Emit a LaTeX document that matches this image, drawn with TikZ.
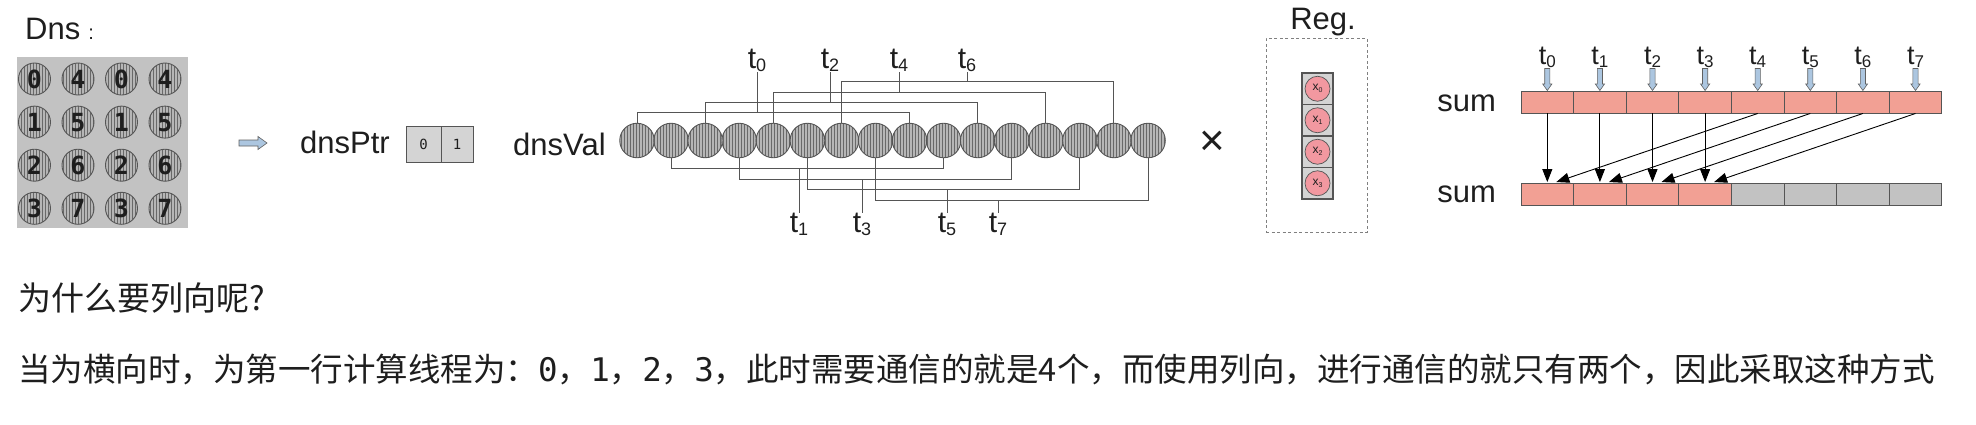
\documentclass[tikz,border=0pt]{standalone}
\usepackage{fontspec}
\setmainfont{Liberation Sans}
\newfontfamily\cjk{Noto Sans CJK SC}
\newfontfamily\monof{DejaVu Sans Mono}
\usetikzlibrary{patterns.meta,arrows.meta}
\definecolor{salmon}{RGB}{242,160,148}
\definecolor{cellgray}{RGB}{194,194,194}
\definecolor{ptrgray}{RGB}{212,212,212}
\definecolor{hbg}{RGB}{182,182,182}
\definecolor{hline}{RGB}{105,105,105}
\definecolor{regpink}{RGB}{242,152,160}
\definecolor{arrblue}{RGB}{172,198,224}
\definecolor{edgec}{RGB}{85,85,85}
\definecolor{txt}{RGB}{30,30,30}
\newcommand{\tsub}[2]{t\raisebox{-3pt}{\fontsize{#2}{#2}\selectfont #1}}
\newcommand{\xsub}[1]{x\raisebox{-2pt}{\fontsize{7}{7}\selectfont #1}}
\begin{document}
\begin{tikzpicture}[x=1pt,y=-1pt,
  big/.style={font=\fontsize{31}{36}\selectfont, inner sep=0pt, text=txt},
  tl/.style={font=\fontsize{30}{30}\selectfont, inner sep=0pt, text=txt},
  tls/.style={font=\fontsize{27}{27}\selectfont, inner sep=0pt, text=txt},
  hatch/.style={circle, inner sep=0pt, draw=edgec, line width=0.9pt,
    preaction={fill=hbg}, pattern={Lines[angle=90,distance=3pt,line width=0.8pt]}, pattern color=hline},
  br/.style={draw=edgec, line width=1pt},
  cellbox/.style={rectangle, draw=edgec, line width=0.9pt, minimum width=52.6pt, minimum height=22pt, inner sep=0pt},
  bluearrow/.style={draw=gray!75!black, fill=arrblue, line width=0.6pt, line join=miter},
  blk/.style={-{Triangle[length=13pt,width=10pt]}, line width=0.9pt, draw=black}
]
\useasboundingbox (0,0) rectangle (1976,424);

% ---------- Dns matrix ----------
\node[big, anchor=base west] (dns) at (25,39.3) {Dns\hspace{8pt}{\fontsize{20}{20}\selectfont :}};
\node[fill=cellgray, minimum width=171pt, minimum height=171pt, inner sep=0pt] (mat) at (102.5,142.5) {};
\foreach \r in {0,...,3} {
  \foreach \c in {0,...,3} {
    \pgfmathtruncatemacro\dg{\r+4*mod(\c,2)}
    \node[hatch, minimum size=32pt, font=\monof\bfseries\fontsize{25}{25}\selectfont, text=txt]
      (m\r\c) at ({34.5+43.5*\c},{79+43.1*\r}) {\dg};
  }
}

% ---------- arrow + dnsPtr ----------
\coordinate (arr) at (239,143);
\draw[bluearrow] (arr) ++(0,-3) -- ++(19,0) -- ++(0,-3.5) -- ++(9,6.5) -- ++(-9,6.5) -- ++(0,-3.5) -- ++(-19,0) -- cycle;
\node[big, anchor=base west] (ptrlab) at (300,153.3) {dnsPtr};
\node[rectangle, draw=edgec, fill=ptrgray, line width=0.9pt, minimum width=35pt, minimum height=36pt, inner sep=0pt,
  font=\monof\fontsize{14}{14}\selectfont, text=txt] (p0) at (423.5,144) {0};
\node[rectangle, draw=edgec, fill=ptrgray, line width=0.9pt, minimum width=32pt, minimum height=36pt, inner sep=0pt,
  font=\monof\fontsize{14}{14}\selectfont, text=txt] (p1) at (457,144) {1};

% ---------- dnsVal ----------
\node[big, anchor=base west] (vallab) at (513,155) {dnsVal};
\foreach \i in {0,...,15} {
  \node[hatch, minimum size=34.5pt] (v\i) at ({637+34.07*\i},140.5) {};
}
\foreach \k/\sx in {0/757,1/830,2/899,3/967} {
  \pgfmathtruncatemacro\ia{2*\k}
  \pgfmathtruncatemacro\ib{2*\k+8}
  \coordinate (tb\k) at (\sx,{112.7-10.3*\k});
  \node[tl, anchor=south] (tt\ia) at (\sx,72) {\tsub{\ia}{18}};
  \draw[br] (v\ia.north) |- (tb\k) -| (v\ib.north);
  \draw[br] (tb\k) -- (tt\ia.south);
}
\foreach \k/\sx in {0/799,1/862,2/947,3/998} {
  \pgfmathtruncatemacro\ia{2*\k+1}
  \pgfmathtruncatemacro\ib{2*\k+9}
  \coordinate (bb\k) at (\sx,{168.3+10.8*\k});
  \node[tl, anchor=north] (tt\ia) at (\sx,213) {\tsub{\ia}{18}};
  \draw[br] (v\ia.south) |- (bb\k) -| (v\ib.south);
  \draw[br] (bb\k) -- (tt\ia.north);
}
\node[font=\fontsize{44}{44}\selectfont, inner sep=0pt, text=txt] (times) at (1212,143) {×};

% ---------- Reg ----------
\node[big] (reglab) at (1323,22) {Reg.};
\node[draw=gray, dash pattern=on 3pt off 2.5pt, line width=0.9pt, minimum width=101pt, minimum height=194pt, inner sep=0pt] (regbox) at (1316.5,135) {};
\foreach \j in {0,...,3} {
  \node[rectangle, draw=edgec, fill=ptrgray, line width=1.2pt, minimum width=31pt, minimum height=31.5pt, inner sep=0pt]
    (rc\j) at (1317.5,{88.75+31.5*\j}) {};
  \node[circle, draw=edgec, fill=regpink, line width=0.7pt, minimum size=25pt, inner sep=0pt,
    font=\fontsize{12}{12}\selectfont, text=txt] (rx\j) at (rc\j.center) {\xsub{\j}};
}

% ---------- sum arrays ----------
\node[big] (sumtop) at (1466.7,103) {sum};
\node[big] (sumbot) at (1466.7,194) {sum};
\foreach \i in {0,...,7} {
  \node[cellbox, fill=salmon] (a\i) at ({1547.3+52.6*\i},102) {};
  \coordinate (ba\i) at ({1547.3+52.6*\i},68.5);
  \draw[bluearrow] (ba\i) ++(-2.6,0) -- ++(5.2,0) -- ++(0,15.5) -- ++(2,0) -- ++(-4.6,6.5) -- ++(-4.6,-6.5) -- ++(2,0) -- cycle;
  \node[tls, anchor=south] (st\i) at ({1547.3+52.6*\i},68) {\tsub{\i}{17}};
}
\foreach \i in {0,...,3} {
  \node[cellbox, fill=salmon] (b\i) at ({1547.3+52.6*\i},194.5) {};
}
\foreach \i in {4,...,7} {
  \node[cellbox, fill=cellgray] (b\i) at ({1547.3+52.6*\i},194.5) {};
}
\foreach \i in {0,...,3} {
  \pgfmathtruncatemacro\src{\i+4}
  \draw[blk] (a\i.south) -- ([yshift=1pt]b\i.north);
  \draw[blk] (a\src.south) -- ([xshift=9pt,yshift=1pt]b\i.north);
}

% ---------- text ----------
\node[anchor=west, inner sep=0pt, font=\cjk\fontsize{33}{33}\selectfont, text=txt] (q) at (18,298) {为什么要列向呢?};
\node[anchor=west, inner sep=0pt, font=\cjk\fontsize{32.5}{32.5}\selectfont, text=txt] (ans) at (18,369)
  {当为横向时，为第一行计算线程为：{\monof 0}，{\monof 1}，{\monof 2}，{\monof 3}，此时需要通信的就是4个，而使用列向，进行通信的就只有两个，因此采取这种方式};
\end{tikzpicture}
\end{document}
